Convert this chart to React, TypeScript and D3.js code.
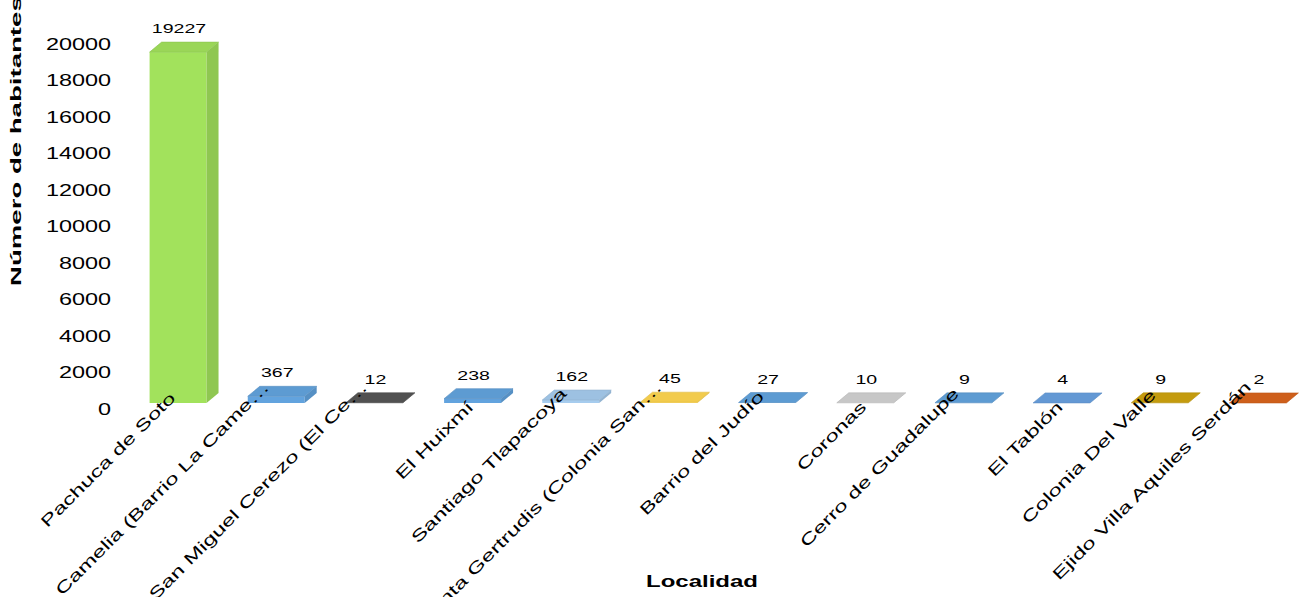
import React from "react";
import * as d3 from "d3";

const categories = [
  "Pachuca de Soto",
  "Camelia (Barrio La Came…",
  "San Miguel Cerezo (El Ce…",
  "El Huixmí",
  "Santiago Tlapacoya",
  "Santa Gertrudis (Colonia San…",
  "Barrio del Judío",
  "Coronas",
  "Cerro de Guadalupe",
  "El Tablón",
  "Colonia Del Valle",
  "Ejido Villa Aquiles Serdán",
];
const values = [19227, 367, 12, 238, 162, 45, 27, 10, 9, 4, 9, 2];
const barColors = [
  "#a2e25c", "#62a3de", "#555555", "#62a3de", "#a6ccee", "#ffd650",
  "#62a3de", "#d2d2d2", "#62a3de", "#68a0e0", "#cfa40f", "#d9641c",
];
const yTicks = [0, 2000, 4000, 6000, 8000, 10000, 12000, 14000, 16000, 18000, 20000];
const yTitle = "Número de habitantes";
const xTitle = "Localidad";

const W = 1307;
const H = 597;
const FONT = "'Liberation Sans', Arial, sans-serif";

export default function App() {
  const y = d3.scaleLinear().domain([0, 20000]).range([409, 44]);
  const x = d3
    .scaleBand<string>()
    .domain(categories)
    .range([128, 1308])
    .paddingInner(0.42)
    .paddingOuter(0.22);
  const bw = x.bandwidth();
  const dx = 12;
  const dy = -10;
  const off = 6;

  return (
    <svg
      width={W}
      height={H}
      style={{ position: "absolute", left: 0, top: 0, background: "#fff" }}
      fontFamily={FONT}
    >
      {/* y tick labels */}
      {yTicks.map((t) => (
        <text
          key={t}
          transform={`translate(111,${y(t)}) scale(1.42,1)`}
          textAnchor="end"
          dominantBaseline="central"
          fontSize={16.5}
          fill="#000"
        >
          {t}
        </text>
      ))}

      {/* bars */}
      {categories.map((c, i) => {
        const v = values[i];
        const x0 = x(c) as number;
        const yb = y(0) - off;
        const yt = y(v) - off;
        const base = d3.color(barColors[i])!;
        const front = base.formatHex();
        const top = base.darker(0.15).formatHex();
        const side = base.darker(0.35).formatHex();
        const topPts = [
          [x0, yt],
          [x0 + dx, yt + dy],
          [x0 + bw + dx, yt + dy],
          [x0 + bw, yt],
        ];
        const sidePts = [
          [x0 + bw, yt],
          [x0 + bw + dx, yt + dy],
          [x0 + bw + dx, yb + dy],
          [x0 + bw, yb],
        ];
        return (
          <g key={c}>
            <rect x={x0} y={yt} width={bw} height={Math.max(0, yb - yt)} fill={front} />
            <polygon points={sidePts.map((p) => p.join(",")).join(" ")} fill={side} />
            <polygon
              points={topPts.map((p) => p.join(",")).join(" ")}
              fill={top}
              stroke={base.darker(0.4).formatHex()}
              strokeWidth={0.6}
            />
          </g>
        );
      })}

      {/* x labels */}
      {categories.map((c) => {
        const cx = (x(c) as number) + bw / 2;
        const L = c.length;
        const shift = Math.max(0, Math.min(20, (L - 9) * 1.5));
        const ex = cx + 2 - shift * 0.4;
        const ey = 408 - shift;
        return (
          <text
            key={c}
            transform={`translate(${ex},${ey}) rotate(-45) scale(1.5,1)`}
            textAnchor="end"
            fontSize={16}
            fill="#000"
          >
            {c}
          </text>
        );
      })}

      {/* value labels */}
      {categories.map((c, i) => {
        const cx = (x(c) as number) + bw / 2 + 1;
        const yl = y(values[i]) - off + dy - 9;
        return (
          <text
            key={c}
            transform={`translate(${cx},${yl}) scale(1.45,1)`}
            textAnchor="middle"
            fontSize={13.5}
            fill="#000"
          >
            {values[i]}
          </text>
        );
      })}

      {/* axis titles */}
      <text
        transform={`translate(21,286) rotate(-90) scale(1.84,1)`}
        textAnchor="start"
        fontSize={15}
        fontWeight="bold"
        fill="#000"
      >
        {yTitle}
      </text>
      <text
        transform={`translate(702,587) scale(1.5,1)`}
        textAnchor="middle"
        fontSize={16}
        fontWeight="bold"
        fill="#000"
      >
        {xTitle}
      </text>
    </svg>
  );
}
